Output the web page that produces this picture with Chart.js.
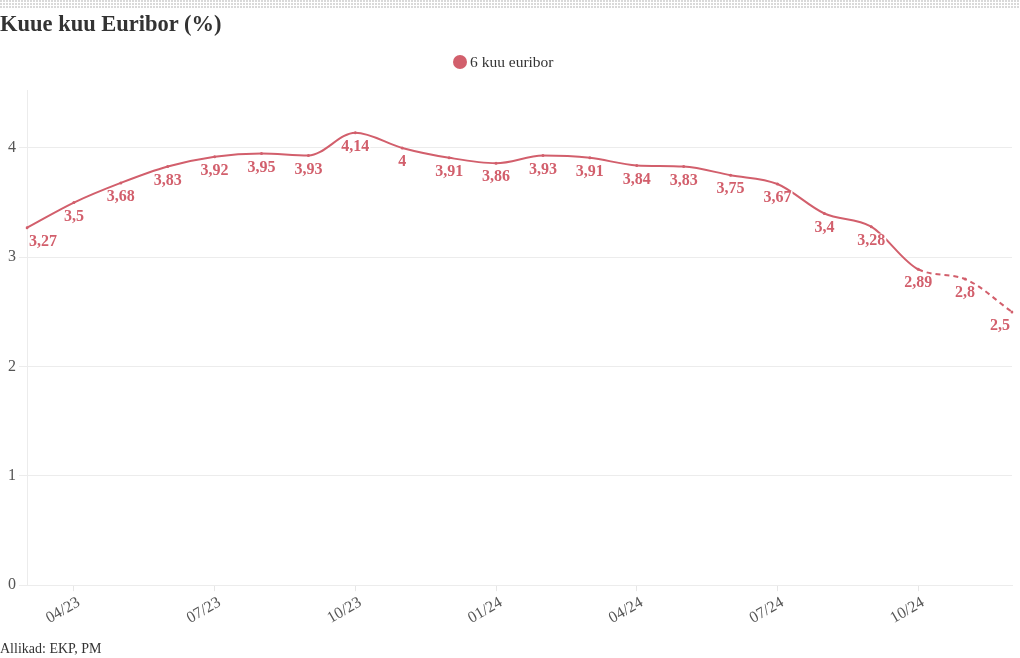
<!DOCTYPE html>
<html>
<head>
<meta charset="utf-8">
<script src="https://cdn.jsdelivr.net/npm/chart.js@4.4.1/dist/chart.umd.min.js"></script>
<style>
  html, body { margin: 0; padding: 0; background: #fff; }
  #wrap { position: relative; width: 1020px; height: 658px; }
  #dots { position: absolute; left: 0; top: 0; width: 1020px; height: 9px;
    background-image: linear-gradient(90deg, #d9d9d9 2px, transparent 2px); background-size: 3px 3px; }
  #dotsMask { position: absolute; left: 0; top: 0; width: 1020px; height: 9px;
    background-image: linear-gradient(180deg, transparent 2px, #fff 2px);
    background-size: 3px 3px; }
  #title { position: absolute; left: 0; top: 11px; font: bold 22.5px "Liberation Serif", serif; color: #333; }
  #legend { position: absolute; left: 453px; top: 53px; font: 15.5px "Liberation Serif", serif; color: #333; display: flex; align-items: center; white-space: nowrap; }
  #legend .dot { width: 14px; height: 14px; border-radius: 50%; background: #d25f6c; margin-right: 3px; }
  #foot { position: absolute; left: 0; top: 641px; font: 14px "Liberation Serif", serif; color: #333; }
  canvas { position: absolute; left: 0; top: 0; }
</style>
</head>
<body>
<div id="wrap">
  <canvas id="c" width="1020" height="658"></canvas>
  <div id="dots"></div><div id="dotsMask"></div>
  <div id="title">Kuue kuu Euribor (%)</div>
  <div id="legend"><span class="dot"></span><span id="legText"></span></div>
  <div id="foot">Allikad: EKP, PM</div>
</div>
<script>
const months = ["03/23","04/23","05/23","06/23","07/23","08/23","09/23","10/23","11/23","12/23","01/24","02/24","03/24","04/24","05/24","06/24","07/24","08/24","09/24","10/24","11/24","12/24"];
const tickLabels = ["04/23","07/23","10/23","01/24","04/24","07/24","10/24"];
const euribor = [3.27,3.5,3.68,3.83,3.92,3.95,3.93,4.14,4,3.91,3.86,3.93,3.91,3.84,3.83,3.75,3.67,3.4,3.28,2.89,2.8,2.5];
const forecastFrom = 19;
const seriesName = "6 kuu euribor";
const yTicks = [0, 1, 2, 3, 4];

const RED = '#d25f6c';
const FONT = '"Liberation Serif", serif';
document.getElementById('legText').textContent = seriesName;

const labelPlugin = {
  id: 'valLabels',
  afterDatasetsDraw(chart) {
    const ctx = chart.ctx;
    const meta = chart.getDatasetMeta(0);
    const area = chart.chartArea;
    ctx.save();
    ctx.font = 'bold 16px ' + FONT;
    ctx.textAlign = 'center';
    ctx.textBaseline = 'middle';
    meta.data.forEach((pt, i) => {
      const txt = String(euribor[i]).replace('.', ',');
      const w = ctx.measureText(txt).width;
      let x = pt.x;
      const half = w / 2 + 1;
      if (x - half < area.left) x = area.left + half + 1;
      if (x + half > area.right) x = area.right - half - 1;
      const y = pt.y + 13;
      ctx.fillStyle = '#fff';
      ctx.fillRect(x - half, y - 6, half * 2, 15);
      ctx.fillStyle = RED;
      ctx.fillText(txt, x, y + 1);
    });
    ctx.restore();
  }
};

new Chart(document.getElementById('c'), {
  type: 'line',
  data: {
    labels: months,
    datasets: [{
      label: seriesName,
      data: euribor,
      borderColor: RED,
      backgroundColor: RED,
      borderWidth: 2,
      pointRadius: 1.5,
      pointHoverRadius: 1.5,
      pointBackgroundColor: RED,
      pointBorderWidth: 0,
      tension: 0.4,
      cubicInterpolationMode: 'monotone',
      segment: {
        borderDash: c => c.p0DataIndex >= forecastFrom ? [5, 4] : undefined
      }
    }]
  },
  options: {
    responsive: false,
    animation: false,
    layout: { padding: { left: 5, right: 8, top: 90, bottom: 28 } },
    plugins: {
      legend: { display: false },
      tooltip: { enabled: false }
    },
    scales: {
      x: {
        offset: false,
        afterFit: s => { s.paddingRight = 0; },
        border: { display: true, color: '#ececec' },
        grid: {
          display: true,
          drawOnChartArea: false,
          tickLength: 6,
          color: c => (tickLabels.includes(months[c.index]) ? '#e6e6e6' : 'rgba(0,0,0,0)')
        },
        ticks: {
          autoSkip: false,
          minRotation: 30,
          maxRotation: 30,
          color: '#555',
          font: { family: FONT, size: 16 },
          padding: 2,
          labelOffset: 5,
          callback: function(v, i) { const l = months[i]; return tickLabels.includes(l) ? l : ''; }
        }
      },
      y: {
        min: 0,
        max: 4.53,
        border: { display: true, color: '#ececec' },
        grid: { color: '#ececec', tickLength: 8 },
        afterBuildTicks: s => { s.ticks = yTicks.map(v => ({ value: v })); },
        ticks: {
          color: '#555',
          font: { family: FONT, size: 16 },
          padding: 3,
          callback: v => String(v)
        }
      }
    }
  },
  plugins: [labelPlugin]
});
</script>
</body>
</html>
